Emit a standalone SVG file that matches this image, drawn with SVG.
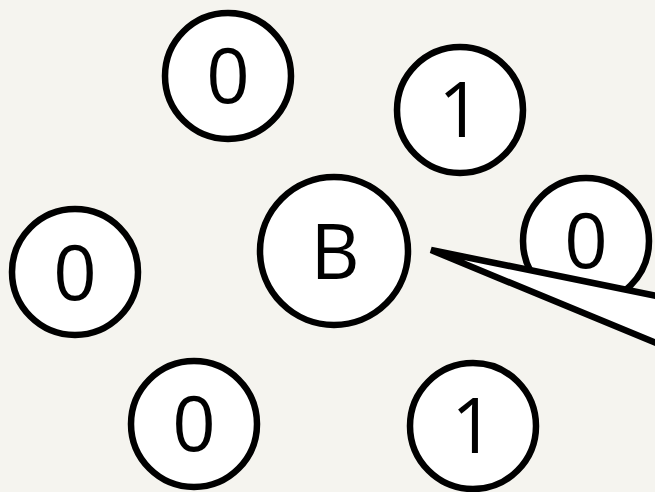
<svg xmlns="http://www.w3.org/2000/svg" width="655" height="492" viewBox="0 0 655 492">
<style>
.n{fill:#ffffff;stroke:#000000;stroke-width:6.5}
.t{font-family:"Open Sans","Noto Sans",sans-serif;font-size:76px;fill:#000000;text-anchor:middle}
.w{fill:#ffffff;stroke:#000000;stroke-width:6.5}
</style>
<rect x="0" y="0" width="655" height="492" fill="#f5f4ef"/>
<g id="n-top0"><circle class="n" cx="228" cy="76" r="63"/><text class="t" x="228" y="103">0</text></g>
<g id="n-top1"><circle class="n" cx="460" cy="110" r="63"/><text class="t" x="460" y="137">1</text></g>
<g id="n-left0"><circle class="n" cx="75" cy="272" r="63"/><text class="t" x="75" y="300">0</text></g>
<g id="n-B"><circle class="n" cx="334" cy="251" r="74"/><text class="t" x="335" y="279">B</text></g>
<g id="n-right0"><circle class="n" cx="586" cy="241" r="63"/><text class="t" x="586" y="268">0</text></g>
<g id="n-bl0"><circle class="n" cx="194" cy="424" r="63"/><text class="t" x="194" y="451">0</text></g>
<g id="n-br1"><circle class="n" cx="473" cy="426" r="63"/><text class="t" x="473" y="453">1</text></g>
<g id="connectors">
<polygon class="w" points="431,250 760,317 760,386"/>
</g>
</svg>
